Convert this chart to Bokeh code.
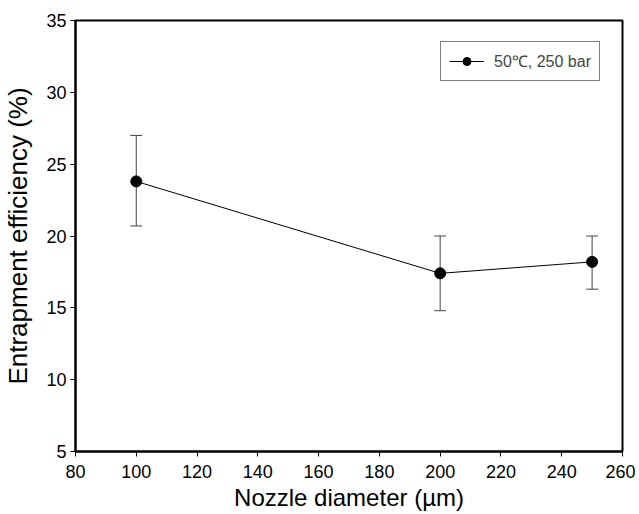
from bokeh.plotting import figure
from bokeh.models import (ColumnDataSource, Whisker, TeeHead, FixedTicker,
                          Legend, LegendItem, Range1d)
from bokeh.embed import file_html
from bokeh.resources import INLINE

# Data
diameters = [100, 200, 250]
efficiency = [23.8, 17.4, 18.2]
err_upper = [27.0, 20.0, 20.0]
err_lower = [20.7, 14.8, 16.3]
x_ticks = [80, 100, 120, 140, 160, 180, 200, 220, 240, 260]
y_ticks = [5, 10, 15, 20, 25, 30, 35]
series_label = "50\u2103, 250 bar"

FONT = "Liberation Sans"

src = ColumnDataSource(dict(x=diameters, y=efficiency, upper=err_upper, lower=err_lower))

p = figure(width=635, height=514, output_backend="svg", toolbar_location=None,
           x_range=Range1d(80, 260), y_range=Range1d(5, 35),
           min_border_left=74, min_border_right=13, min_border_top=20, min_border_bottom=63)

p.xgrid.visible = False
p.ygrid.visible = False
p.outline_line_color = "black"
p.outline_line_width = 2
p.background_fill_color = "white"
p.border_fill_color = "white"

for ax in (p.xaxis[0], p.yaxis[0]):
    ax.axis_line_width = 2
    ax.axis_line_color = "black"
    ax.major_tick_line_color = "black"
    ax.major_tick_line_width = 1
    ax.major_tick_out = 5
    ax.major_tick_in = 0
    ax.minor_tick_line_color = None
    ax.major_label_text_font = FONT
    ax.major_label_text_font_size = "18px"
    ax.major_label_text_color = "black"
    ax.axis_label_text_font = FONT
    ax.axis_label_text_font_style = "normal"
    ax.axis_label_text_color = "black"

p.xaxis.axis_label_text_font_size = "24px"
p.yaxis.axis_label_text_font_size = "26px"
p.xaxis.ticker = FixedTicker(ticks=x_ticks)
p.yaxis.ticker = FixedTicker(ticks=y_ticks)
p.xaxis.axis_label = "Nozzle diameter (\u00b5m)"
p.yaxis.axis_label = "Entrapment efficiency (%)"
p.xaxis.major_label_standoff = 8
p.yaxis.major_label_standoff = 4
p.xaxis.axis_label_standoff = 3
p.yaxis.axis_label_standoff = 10

line_r = p.line("x", "y", source=src, line_color="black", line_width=1)
wh = Whisker(source=src, base="x", upper="upper", lower="lower",
             line_color="#444444", line_width=1,
             upper_head=TeeHead(size=12, line_color="#444444", line_width=1),
             lower_head=TeeHead(size=12, line_color="#444444", line_width=1))
p.add_layout(wh)
sc_r = p.scatter("x", "y", source=src, size=11, fill_color="black", line_color="black")

legend = Legend(items=[LegendItem(label=series_label, renderers=[line_r, sc_r])],
                location=(365, 370), orientation="vertical")
legend.border_line_color = "black"
legend.border_line_width = 1
legend.background_fill_color = "white"
legend.background_fill_alpha = 1
legend.label_text_font = FONT
legend.label_text_font_size = "16px"
legend.glyph_width = 35
legend.glyph_height = 20
legend.padding = 8
legend.margin = 0
legend.spacing = 0
legend.label_standoff = 10
p.add_layout(legend)

open("out.html", "w").write(file_html(p, INLINE))
